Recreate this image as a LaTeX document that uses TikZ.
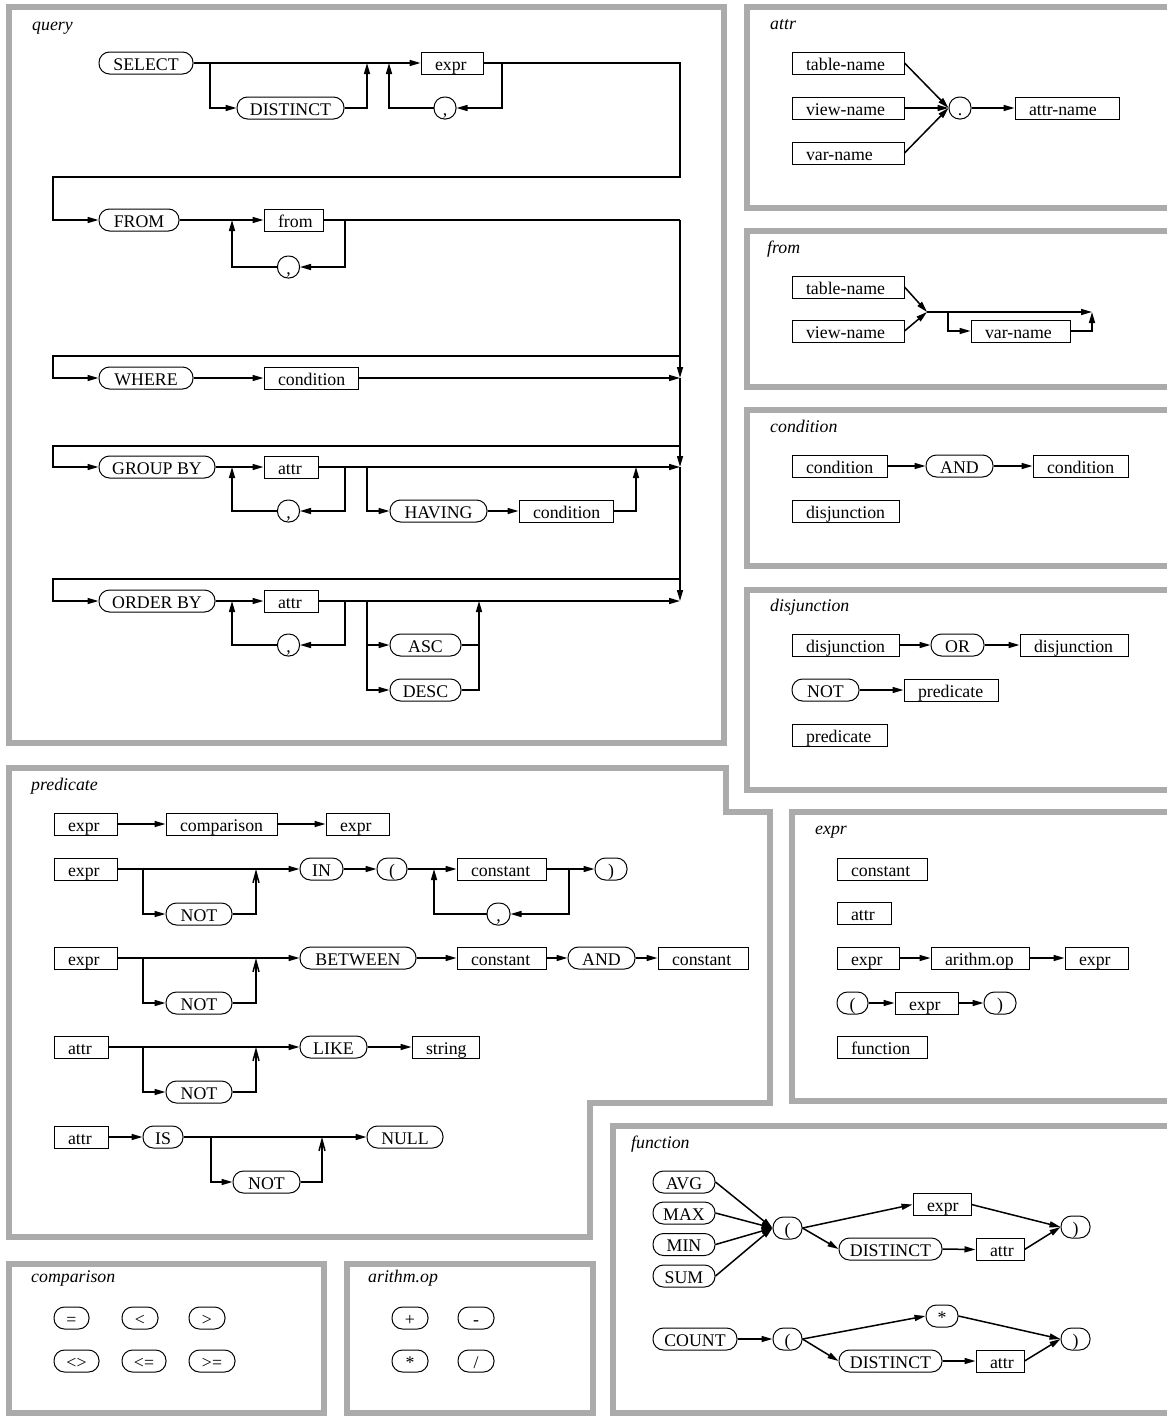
\documentclass[tikz,border=0pt]{standalone}
\usepackage{fontspec}
\setmainfont{Liberation Serif}
\usetikzlibrary{arrows.meta}
\definecolor{cFrame}{HTML}{ABABAB}
\hyphenpenalty=10000
\exhyphenpenalty=10000
\newcommand{\dgfont}{\fontsize{17.8pt}{21pt}\selectfont}
\tikzset{
  ntbox/.style={draw, line width=1pt, minimum width=#1pt, minimum height=22pt,
                inner xsep=14pt, inner ysep=0pt, text width={#1pt-28pt}, align=left,
                text height=14pt, text depth=0pt},
  tmbox/.style={draw, line width=1pt, rounded corners=10.5pt, minimum width=#1pt,
                minimum height=22pt, inner sep=0pt, text height=14pt, text depth=0pt},
  arr/.style={line width=1.5pt, -{Triangle[length=11pt,width=6pt]}},
  oarr/.style={line width=1.5pt, -{Straight Barb[length=11pt,width=6pt]}},
  ln/.style={line width=1.5pt},
  panel/.style={draw=cFrame, line width=6pt},
  ttl/.style={anchor=base west, inner sep=0pt, font=\dgfont\itshape}
}
\begin{document}
\begin{tikzpicture}[x={(1pt,0pt)}, y={(0pt,-1pt)}, every node/.append style={font=\dgfont}]
\useasboundingbox (0,0) rectangle (1167,1416);
\clip (0,0) rectangle (1167,1416);
% panel frames
\draw[panel] (9,7) rectangle (724,743);
\draw[panel] (747,7) rectangle (1180,208);
\draw[panel] (747,231) rectangle (1180,387);
\draw[panel] (747,410) rectangle (1180,566);
\draw[panel] (747,590) rectangle (1180,790);
\draw[panel] (9,768) -- (726,768) -- (726,812) -- (770,812) -- (770,1103)
  -- (590,1103) -- (590,1237) -- (9,1237) -- cycle;
\draw[panel] (792,812) rectangle (1180,1101);
\draw[panel] (613,1126) rectangle (1180,1413);
\draw[panel] (9,1264) rectangle (324,1413);
\draw[panel] (347,1264) rectangle (593,1413);

% ---- query ----
\node[ttl] (tQuery) at (32,30) {query};
\node[tmbox=94] (sel) at (146,63) {SELECT};
\node[tmbox=107] (dist) at (290.5,108) {DISTINCT};
\node[ntbox=62] (qExpr) at (452,63) {expr};
\node[tmbox=22] (qCm1) at (445,108) {,};
\node[tmbox=80] (frm) at (139,220) {FROM};
\node[ntbox=59] (qFrom) at (293.5,220) {from};
\node[tmbox=22] (qCm2) at (288.5,267) {,};
\node[tmbox=94] (whr) at (146,378) {WHERE};
\node[ntbox=94] (qCond) at (311,378) {condition};
\node[tmbox=116] (grp) at (157,467) {GROUP BY};
\node[ntbox=54] (gAttr) at (291,467) {attr};
\node[tmbox=22] (qCm3) at (288.5,511) {,};
\node[tmbox=97] (hav) at (438.5,511) {HAVING};
\node[ntbox=94] (hCond) at (566,511) {condition};
\node[tmbox=116] (ord) at (157,601) {ORDER BY};
\node[ntbox=54] (oAttr) at (291,601) {attr};
\node[tmbox=22] (qCm4) at (288.5,645) {,};
\node[tmbox=71] (asc) at (425.5,645) {ASC};
\node[tmbox=71] (desc) at (425.5,690) {DESC};
% junctions
\coordinate (jDist) at (210,63);
\coordinate (jDistR) at (367,63);
\coordinate (jExL) at (389,63);
\coordinate (jExR) at (502,63);
\coordinate (qR) at (680,177);
\coordinate (qL) at (53,177);
\coordinate (jFrL) at (232,220);
\coordinate (jFrR) at (345,220);
\coordinate (bus) at (680,220);
\coordinate (wTop) at (680,356);
\coordinate (wL) at (53,356);
\coordinate (wEnd) at (680,378);
\coordinate (gTop) at (680,446);
\coordinate (gL) at (53,446);
\coordinate (gEnd) at (680,467);
\coordinate (jGL) at (232,467);
\coordinate (jGR) at (345,467);
\coordinate (jHav) at (367,467);
\coordinate (jHavR) at (636,467);
\coordinate (oTop) at (680,579);
\coordinate (oL) at (53,579);
\coordinate (oEnd) at (680,601);
\coordinate (jOL) at (232,601);
\coordinate (jOR) at (345,601);
\coordinate (jSort) at (367,601);
\coordinate (jSortR) at (479,601);
% SELECT
\draw[arr] (sel.east) -- (qExpr.west);
\draw[arr] (jDist) |- (dist.west);
\draw[arr] (dist.east) -| (jDistR);
\draw[arr] (jExR) |- (qCm1.east);
\draw[arr] (qCm1.west) -| (jExL);
\draw[arr] (qExpr.east) -| (qR) -- (qL) |- (frm.west);
% FROM
\draw[arr] (frm.east) -- (qFrom.west);
\draw[arr] (jFrR) |- (qCm2.east);
\draw[arr] (qCm2.west) -| (jFrL);
\draw[ln] (qFrom.east) -- (bus);
% WHERE
\draw[arr] (bus) -- (wEnd);
\draw[arr] (wTop) -- (wL) |- (whr.west);
\draw[arr] (whr.east) -- (qCond.west);
\draw[arr] (qCond.east) -- (wEnd);
% GROUP BY
\draw[arr] (wEnd) -- (gEnd);
\draw[arr] (gTop) -- (gL) |- (grp.west);
\draw[arr] (grp.east) -- (gAttr.west);
\draw[arr] (jGR) |- (qCm3.east);
\draw[arr] (qCm3.west) -| (jGL);
\draw[arr] (gAttr.east) -- (gEnd);
\draw[arr] (jHav) |- (hav.west);
\draw[arr] (hav.east) -- (hCond.west);
\draw[arr] (hCond.east) -| (jHavR);
% ORDER BY
\draw[arr] (gEnd) -- (oEnd);
\draw[arr] (oTop) -- (oL) |- (ord.west);
\draw[arr] (ord.east) -- (oAttr.west);
\draw[arr] (jOR) |- (qCm4.east);
\draw[arr] (qCm4.west) -| (jOL);
\draw[arr] (oAttr.east) -- (oEnd);
\draw[arr] (jSort) |- (asc.west);
\draw[arr] (jSort) |- (desc.west);
\draw[ln] (asc.east) -- (asc.east -| jSortR);
\draw[arr] (desc.east) -| (jSortR);

% ---- attr ----
\node[ttl] (tAttr) at (770,29) {attr};
\node[ntbox=112] (aTab) at (848,63) {table-name};
\node[ntbox=112] (aView) at (848,108) {view-name};
\node[ntbox=112] (aVar) at (848,153) {var-name};
\node[tmbox=22] (aDot) at (960,108) {.};
\node[ntbox=104] (aName) at (1067,108) {attr-name};
\draw[arr] (aTab.east) -- (aDot.west);
\draw[arr] (aView.east) -- (aDot.west);
\draw[arr] (aVar.east) -- (aDot.west);
\draw[arr] (aDot.east) -- (aName.west);

% ---- from ----
\node[ttl] (tFrom) at (767,253) {from};
\node[ntbox=112] (fTab) at (848,287) {table-name};
\node[ntbox=112] (fView) at (848,331) {view-name};
\node[ntbox=99] (fVar) at (1020.5,331) {var-name};
\coordinate (fJoin) at (927,312);
\coordinate (fSplit) at (948,312);
\coordinate (fEnd) at (1092,312);
\draw[arr] (fTab.east) -- (fJoin);
\draw[arr] (fView.east) -- (fJoin);
\draw[arr] (fJoin) -- (fEnd);
\draw[arr] (fSplit) |- (fVar.west);
\draw[arr] (fVar.east) -| (fEnd);

% ---- condition ----
\node[ttl] (tCond) at (770,432) {condition};
\node[ntbox=95] (cC1) at (839.5,466) {condition};
\node[tmbox=67] (cAnd) at (959.5,466) {AND};
\node[ntbox=95] (cC2) at (1080.5,466) {condition};
\node[ntbox=107] (cDis) at (845.5,511) {disjunction};
\draw[arr] (cC1.east) -- (cAnd.west);
\draw[arr] (cAnd.east) -- (cC2.west);

% ---- disjunction ----
\node[ttl] (tDis) at (770,611) {disjunction};
\node[ntbox=107] (dD1) at (845.5,645) {disjunction};
\node[tmbox=53] (dOr) at (957.5,645) {OR};
\node[ntbox=108] (dD2) at (1074,645) {disjunction};
\node[tmbox=67] (dNot) at (825.5,690) {NOT};
\node[ntbox=94] (dP1) at (951,690) {predicate};
\node[ntbox=95] (dP2) at (839.5,735) {predicate};
\draw[arr] (dD1.east) -- (dOr.west);
\draw[arr] (dOr.east) -- (dD2.west);
\draw[arr] (dNot.east) -- (dP1.west);

% ---- predicate ----
\node[ttl] (tPred) at (31,790) {predicate};
\node[ntbox=63] (pE1) at (85.5,824) {expr};
\node[ntbox=111] (pCmp) at (221.5,824) {comparison};
\node[ntbox=63] (pE2) at (357.5,824) {expr};
\node[ntbox=63] (pE3) at (85.5,869) {expr};
\node[tmbox=66] (pNot1) at (199,914) {NOT};
\node[tmbox=43] (pIn) at (321.5,869) {IN};
\node[tmbox=30] (pLp) at (392,869) {(};
\node[ntbox=89] (pCon1) at (501.5,869) {constant};
\node[tmbox=23] (pCm) at (498.5,914) {,};
\node[tmbox=32] (pRp) at (611,869) {)};
\node[ntbox=63] (pE4) at (85.5,958) {expr};
\node[tmbox=66] (pNot2) at (199,1003) {NOT};
\node[tmbox=116] (pBtw) at (358,958) {BETWEEN};
\node[ntbox=89] (pCon2) at (501.5,958) {constant};
\node[tmbox=67] (pAnd) at (601.5,958) {AND};
\node[ntbox=90] (pCon3) at (703,958) {constant};
\node[ntbox=54] (pA1) at (81,1047) {attr};
\node[tmbox=66] (pNot3) at (199,1092) {NOT};
\node[tmbox=67] (pLike) at (333.5,1047) {LIKE};
\node[ntbox=67] (pStr) at (445.5,1047) {string};
\node[ntbox=54] (pA2) at (81,1137) {attr};
\node[tmbox=40] (pIs) at (163,1137) {IS};
\node[tmbox=67] (pNot4) at (266.5,1182) {NOT};
\node[tmbox=76] (pNull) at (405,1137) {NULL};
\coordinate (jN1) at (143,869);
\coordinate (jN1R) at (256,869);
\coordinate (jCL) at (434,869);
\coordinate (jCR) at (569,869);
\coordinate (jN2) at (143,958);
\coordinate (jN2R) at (256,958);
\coordinate (jN3) at (143,1047);
\coordinate (jN3R) at (256,1047);
\coordinate (jN4) at (211,1137);
\coordinate (jN4R) at (322,1137);
\draw[arr] (pE1.east) -- (pCmp.west);
\draw[arr] (pCmp.east) -- (pE2.west);
% IN
\draw[arr] (pE3.east) -- (pIn.west);
\draw[arr] (jN1) |- (pNot1.west);
\draw[oarr] (pNot1.east) -| (jN1R);
\draw[arr] (pIn.east) -- (pLp.west);
\draw[arr] (pLp.east) -- (pCon1.west);
\draw[arr] (jCR) |- (pCm.east);
\draw[arr] (pCm.west) -| (jCL);
\draw[arr] (pCon1.east) -- (pRp.west);
% BETWEEN
\draw[arr] (pE4.east) -- (pBtw.west);
\draw[arr] (jN2) |- (pNot2.west);
\draw[oarr] (pNot2.east) -| (jN2R);
\draw[arr] (pBtw.east) -- (pCon2.west);
\draw[arr] (pCon2.east) -- (pAnd.west);
\draw[arr] (pAnd.east) -- (pCon3.west);
% LIKE
\draw[arr] (pA1.east) -- (pLike.west);
\draw[arr] (jN3) |- (pNot3.west);
\draw[oarr] (pNot3.east) -| (jN3R);
\draw[arr] (pLike.east) -- (pStr.west);
% IS NULL
\draw[arr] (pA2.east) -- (pIs.west);
\draw[arr] (pIs.east) -- (pNull.west);
\draw[arr] (jN4) |- (pNot4.west);
\draw[oarr] (pNot4.east) -| (jN4R);

% ---- expr ----
\node[ttl] (tExpr) at (815,834) {expr};
\node[ntbox=90] (eCon) at (882,869) {constant};
\node[ntbox=54] (eAttr) at (864,913) {attr};
\node[ntbox=62] (eE1) at (868,958) {expr};
\node[ntbox=98] (eOp) at (980,958) {arithm.op};
\node[ntbox=63] (eE2) at (1096.5,958) {expr};
\node[tmbox=31] (eLp) at (852.5,1003) {(};
\node[ntbox=63] (eE3) at (926.5,1003) {expr};
\node[tmbox=32] (eRp) at (1000,1003) {)};
\node[ntbox=90] (eFun) at (882,1047) {function};
\draw[arr] (eE1.east) -- (eOp.west);
\draw[arr] (eOp.east) -- (eE2.west);
\draw[arr] (eLp.east) -- (eE3.west);
\draw[arr] (eE3.east) -- (eRp.west);

% ---- function ----
\node[ttl] (tFun) at (631,1148) {function};
\node[tmbox=62] (fAvg) at (684,1182) {AVG};
\node[tmbox=62] (fMax) at (684,1213) {MAX};
\node[tmbox=62] (fMin) at (684,1244.5) {MIN};
\node[tmbox=62] (fSum) at (684,1276) {SUM};
\node[tmbox=29] (fLp) at (787.5,1228) {(};
\node[ntbox=58] (fExpr) at (942,1204.5) {expr};
\node[tmbox=103] (fDist1) at (890.5,1249) {DISTINCT};
\node[ntbox=48] (fAttr1) at (1000,1249.5) {attr};
\node[tmbox=29] (fRp) at (1075.5,1227) {)};
\node[tmbox=84] (fCnt) at (695,1339) {COUNT};
\node[tmbox=29] (fLp2) at (787.5,1339) {(};
\node[tmbox=32] (fStar) at (942,1316) {*};
\node[tmbox=103] (fDist2) at (890.5,1361) {DISTINCT};
\node[ntbox=48] (fAttr2) at (1000,1361) {attr};
\node[tmbox=29] (fRp2) at (1075.5,1339) {)};
\foreach \f in {fAvg,fMax,fMin,fSum}
  \draw[arr] (\f.east) -- (fLp.west);
\draw[arr] (fLp.east) -- (fExpr.west);
\draw[arr] (fLp.east) -- (fDist1.west);
\draw[arr] (fDist1.east) -- (fAttr1.west);
\draw[arr] (fExpr.east) -- (fRp.west);
\draw[arr] (fAttr1.east) -- (fRp.west);
\draw[arr] (fCnt.east) -- (fLp2.west);
\draw[arr] (fLp2.east) -- (fStar.west);
\draw[arr] (fLp2.east) -- (fDist2.west);
\draw[arr] (fDist2.east) -- (fAttr2.west);
\draw[arr] (fStar.east) -- (fRp2.west);
\draw[arr] (fAttr2.east) -- (fRp2.west);

% ---- comparison ----
\node[ttl] (tCmp) at (31,1282) {comparison};
\node[tmbox=35] (cEq) at (71.5,1318) {=};
\node[tmbox=36] (cLt) at (140,1318) {<};
\node[tmbox=36] (cGt) at (207,1318) {>};
\node[tmbox=45] (cNe) at (76.5,1361) {<>};
\node[tmbox=44] (cLe) at (144,1361) {<=};
\node[tmbox=46] (cGe) at (212,1361) {>=};

% ---- arithm.op ----
\node[ttl] (tOp) at (368,1282) {arithm.op};
\node[tmbox=36] (oPl) at (410,1318) {+};
\node[tmbox=36] (oMi) at (476,1318) {-};
\node[tmbox=36] (oMu) at (410,1361) {*};
\node[tmbox=36] (oDi) at (476,1361) {/};
\end{tikzpicture}
\end{document}
